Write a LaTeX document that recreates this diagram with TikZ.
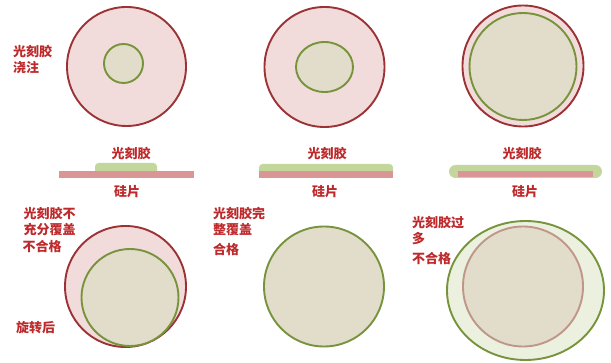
\documentclass[tikz,border=0pt]{standalone}
\usepackage{fontspec}
\usetikzlibrary{shapes.geometric}
\newfontfamily\cjk{Noto Sans CJK SC}
\definecolor{wafer}{HTML}{F2DCDB}
\definecolor{waferedge}{HTML}{9B3236}
\definecolor{resist}{HTML}{E1DDCA}
\definecolor{resistedge}{HTML}{77933C}
\definecolor{barpink}{HTML}{D99694}
\definecolor{bargreen}{HTML}{C3D69B}
\definecolor{excess}{HTML}{EBF1DE}
\definecolor{brownedge}{HTML}{C0968A}
\definecolor{txtred}{HTML}{BE2A2C}
\tikzset{
  lbl/.style={font=\cjk\bfseries\fontsize{13}{16.5}\selectfont, text=txtred, inner sep=0pt, align=left},
  clbl/.style={font=\cjk\bfseries\fontsize{13}{16.5}\selectfont, text=txtred, inner sep=0pt},
  waf/.style={circle, draw=waferedge, line width=1.9pt, fill=wafer, inner sep=0pt},
  res/.style={circle, draw=resistedge, line width=1.9pt, fill=resist, inner sep=0pt},
}
\begin{document}
\begin{tikzpicture}[x=1pt,y=-1pt]
\useasboundingbox (0,0) rectangle (611,363);
% ---- top row circles
\node[waf, minimum size=119pt] (w1) at (126.5,66.5) {};
\node[res, minimum size=39pt] (r1) at (123.5,63.5) {};
\node[waf, minimum size=120pt] (w2) at (324.5,67) {};
\node[res, ellipse, minimum width=57pt, minimum height=50pt] (r2) at (324.5,67) {};
\node[waf, minimum size=121pt] (w3) at (523,66) {};
\node[res, minimum size=107pt] (r3) at (523,66.5) {};
% ---- labels top row
\node[lbl, anchor=north west] (t1) at (13,45) {光刻胶\\浇注};
\node[clbl] (p1) at (131,154) {光刻胶};
\node[clbl] (p2) at (327,154) {光刻胶};
\node[clbl] (p3) at (522,154) {光刻胶};
\node[clbl] (s1) at (127,192) {硅片};
\node[clbl] (s2) at (325,192) {硅片};
\node[clbl] (s3) at (525,192) {硅片};
% ---- cross sections
\fill[bargreen, rounded corners=3.5pt] (95,163) rectangle (157,175);
\fill[barpink] (59,171) rectangle (194,178);
\fill[bargreen, rounded corners=3.5pt] (259,164) rectangle (393,175);
\fill[barpink] (259,171) rectangle (393,178);
\fill[bargreen, rounded corners=6.5pt] (449,165) rectangle (602,178);
\fill[barpink] (458,171) rectangle (593,177);
% ---- bottom row
\node[waf, minimum size=121pt] (w4) at (125.5,286.5) {};
\node[res, minimum size=97pt] (r4) at (130,297.5) {};
\node[res, minimum size=120pt] (r5) at (324,286.5) {};
\node[ellipse, draw=resistedge, line width=1.9pt, fill=excess, inner sep=0pt, minimum width=157pt, minimum height=139pt] (e6) at (525.5,290.5) {};
\node[circle, draw=brownedge, line width=1.9pt, fill=resist, inner sep=0pt, minimum size=120pt] (r6) at (523,286.5) {};
% ---- bottom labels
\node[lbl, anchor=north west] (t4) at (23.5,207) {光刻胶不\\充分覆盖};
\node[lbl, anchor=north west] (q4) at (22.5,240) {不合格};
\node[lbl, anchor=north west] (x4) at (16,321.5) {旋转后};
\node[lbl, anchor=north west] (t5) at (213,207) {光刻胶完\\整覆盖};
\node[lbl, anchor=north west] (q5) at (213,243) {合格};
\node[lbl, anchor=north west] (t6) at (412,216) {光刻胶过\\多};
\node[lbl, anchor=north west] (q6) at (412,252) {不合格};
\end{tikzpicture}
\end{document}
